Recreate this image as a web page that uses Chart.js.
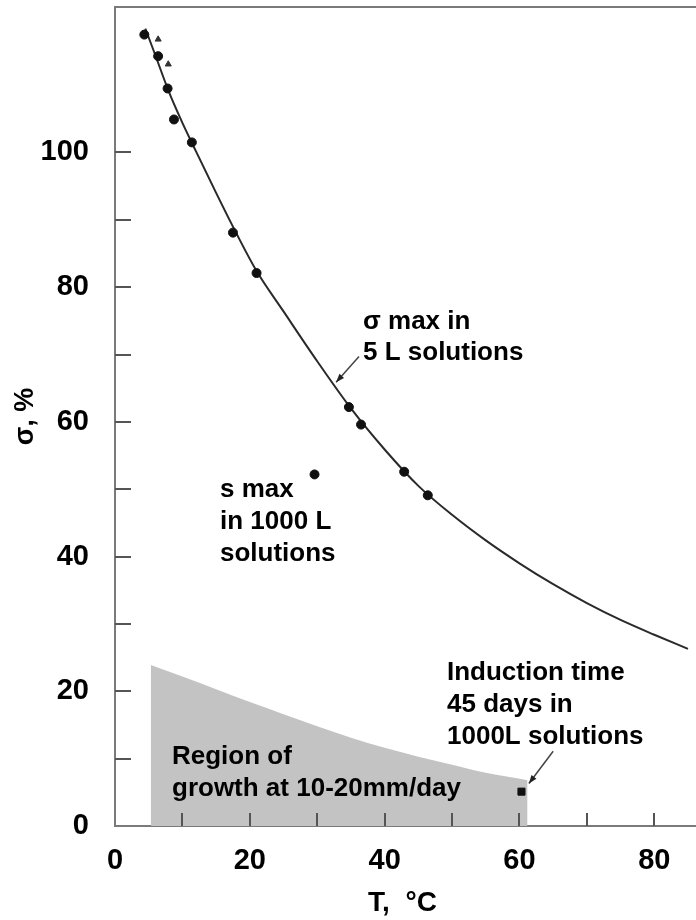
<!DOCTYPE html>
<html>
<head>
<meta charset="utf-8">
<script src="https://cdn.jsdelivr.net/npm/chart.js@4.4.0/dist/chart.umd.min.js"></script>
<style>
  html, body { margin: 0; padding: 0; background: #fff; overflow: hidden; }
  #wrap { width: 696px; height: 920px; position: relative; }
  #sigmaChart { display: block; }
</style>
</head>
<body>
<div id="wrap"><canvas id="sigmaChart"></canvas></div>
<script>
// Smooth fitted curve: sigma max in 5 L solutions
const curveT     = [4.5, 6, 8, 10, 12, 15, 18, 21, 25, 30, 35, 40, 45, 50, 55, 60, 65, 70, 75, 80, 85];
const curveSigma = [118.4, 114.4, 109.0, 104.4, 100.2, 94.0, 88.0, 82.4, 76.4, 69.0, 62.0, 55.9, 50.5, 46.2, 42.4, 39.0, 35.9, 33.1, 30.6, 28.4, 26.3];

// Measured points
const pointsT     = [4.35, 6.4, 7.8, 8.75, 11.4, 17.5, 21.0, 34.7, 36.5, 42.9, 46.4];
const pointsSigma = [117.5, 114.3, 109.5, 104.9, 101.5, 88.1, 82.1, 62.2, 59.6, 52.6, 49.1];

// Lower-bound markers (small arrows)
const boundT     = [6.4, 7.9];
const boundSigma = [116.8, 113.1];

// s max in 1000 L solutions
const bigT     = [29.6];
const bigSigma = [52.2];

// Induction time point
const inductionT     = [60.3];
const inductionSigma = [5.1];

// Grey region of growth
const regionT     = [5.3, 10, 15, 20, 25, 30, 35, 40, 45, 50, 55, 61.2];
const regionSigma = [23.9, 22.2, 20.3, 18.4, 16.6, 14.8, 13.1, 11.6, 10.3, 9.1, 7.9, 6.8];

// Axis ticks
const xTicks = [0, 10, 20, 30, 40, 50, 60, 70, 80];
const yTicks = [0, 10, 20, 30, 40, 50, 60, 70, 80, 90, 100];
const xLabelled = [0, 20, 40, 60, 80];
const yLabelled = [0, 20, 40, 60, 80, 100];

// Annotation arrows (data coords, tail -> head)
const arrowTails = [[36.2, 69.7], [65.0, 11.1]];
const arrowHeads = [[32.8, 65.9], [61.4, 6.3]];

const FONT = '"Liberation Sans", Arial, Helvetica, sans-serif';

const toXY = (xs, ys) => xs.map((x, i) => ({ x: x, y: ys[i] }));

// Inside ticks, frame lines, arrows and notes
const decorPlugin = {
    id: 'decor',
    afterDatasetsDraw(chart) {
        const { ctx, chartArea } = chart;
        const xs = chart.scales.x, ys = chart.scales.y;
        ctx.save();

        // top frame line and bottom axis run to the canvas edge
        ctx.strokeStyle = '#7a7a7a';
        ctx.lineWidth = 2;
        ctx.beginPath();
        ctx.moveTo(chartArea.left, chartArea.top);
        ctx.lineTo(chart.width, chartArea.top);
        ctx.moveTo(chartArea.right - 2, chartArea.bottom);
        ctx.lineTo(chart.width, chartArea.bottom);
        ctx.stroke();

        // inside ticks
        ctx.strokeStyle = '#555';
        ctx.lineWidth = 2;
        xTicks.forEach(v => {
            if (v === 0) return;
            const px = Math.round(xs.getPixelForValue(v));
            ctx.beginPath();
            ctx.moveTo(px, chartArea.bottom);
            ctx.lineTo(px, chartArea.bottom - 13);
            ctx.stroke();
        });
        yTicks.forEach(v => {
            if (v === 0) return;
            const py = Math.round(ys.getPixelForValue(v));
            ctx.beginPath();
            ctx.moveTo(chartArea.left, py);
            ctx.lineTo(chartArea.left + 16, py);
            ctx.stroke();
        });

        // arrows
        ctx.strokeStyle = '#444';
        ctx.fillStyle = '#222';
        ctx.lineWidth = 1.5;
        arrowTails.forEach((t, i) => {
            const x1 = xs.getPixelForValue(t[0]), y1 = ys.getPixelForValue(t[1]);
            const x2 = xs.getPixelForValue(arrowHeads[i][0]), y2 = ys.getPixelForValue(arrowHeads[i][1]);
            ctx.beginPath();
            ctx.moveTo(x1, y1);
            ctx.lineTo(x2, y2);
            ctx.stroke();
            const a = Math.atan2(y2 - y1, x2 - x1);
            ctx.beginPath();
            ctx.moveTo(x2, y2);
            ctx.lineTo(x2 - 9 * Math.cos(a - 0.35), y2 - 9 * Math.sin(a - 0.35));
            ctx.lineTo(x2 - 9 * Math.cos(a + 0.35), y2 - 9 * Math.sin(a + 0.35));
            ctx.closePath();
            ctx.fill();
        });

        // text notes
        ctx.fillStyle = '#000';
        ctx.font = 'bold 26px ' + FONT;
        ctx.textAlign = 'left';
        ctx.textBaseline = 'alphabetic';
        const notes = [
            ['σ max in', 363, 329],
            ['5 L solutions', 363, 360],
            ['s max', 220, 497],
            ['in 1000 L', 220, 529],
            ['solutions', 220, 561],
            ['Induction time', 447, 680],
            ['45 days in', 447, 712],
            ['1000L solutions', 447, 744],
            ['Region of', 172, 764],
            ['growth at 10-20mm/day', 172, 796]
        ];
        notes.forEach(n => ctx.fillText(n[0], n[1], n[2]));
        ctx.restore();
    }
};

const ctx = document.getElementById('sigmaChart').getContext('2d');
new Chart(ctx, {
    type: 'scatter',
    data: {
        datasets: [
            {
                type: 'line',
                data: toXY(regionT, regionSigma),
                showLine: true,
                borderWidth: 0,
                borderColor: 'rgba(0,0,0,0)',
                backgroundColor: '#c3c3c3',
                fill: 'origin',
                pointRadius: 0,
                cubicInterpolationMode: 'monotone',
                order: 5
            },
            {
                type: 'line',
                data: toXY(curveT, curveSigma),
                showLine: true,
                borderColor: '#2a2a2a',
                borderWidth: 2,
                fill: false,
                pointRadius: 0,
                cubicInterpolationMode: 'monotone',
                order: 4
            },
            {
                data: toXY(pointsT, pointsSigma),
                pointStyle: 'circle',
                pointRadius: 4.5,
                backgroundColor: '#111',
                borderColor: '#111',
                order: 1
            },
            {
                data: toXY(boundT, boundSigma),
                pointStyle: 'triangle',
                pointRadius: 3.5,
                backgroundColor: '#333',
                borderColor: '#333',
                order: 1
            },
            {
                data: toXY(bigT, bigSigma),
                pointStyle: 'circle',
                pointRadius: 4.5,
                backgroundColor: '#111',
                borderColor: '#111',
                order: 1
            },
            {
                data: toXY(inductionT, inductionSigma),
                pointStyle: 'rect',
                pointRadius: 5,
                backgroundColor: '#111',
                borderColor: '#111',
                order: 1
            }
        ]
    },
    options: {
        responsive: true,
        maintainAspectRatio: false,
        animation: false,
        events: [],
        layout: { padding: { top: 7, right: 0, left: 0, bottom: 0 } },
        plugins: {
            legend: { display: false },
            tooltip: { enabled: false }
        },
        scales: {
            x: {
                type: 'linear',
                min: 0,
                max: 85.3,
                grid: { display: false },
                border: { display: true, color: '#7a7a7a', width: 2 },
                ticks: {
                    stepSize: 10,
                    includeBounds: false,
                    autoSkip: false,
                    maxRotation: 0,
                    padding: 10,
                    color: '#000',
                    font: { family: FONT, size: 29, weight: 'bold' },
                    callback: v => xLabelled.includes(v) ? String(v) : ''
                },
                title: {
                    display: true,
                    text: 'T,  °C',
                    color: '#000',
                    font: { family: FONT, size: 28, weight: 'bold' },
                    padding: { top: 8, bottom: 0 }
                },
                afterFit: scale => {
                    scale.height = 94;
                    scale.paddingLeft = 0;
                    scale.paddingRight = 0;
                }
            },
            y: {
                type: 'linear',
                min: 0,
                max: 121.6,
                grid: { display: false },
                border: { display: true, color: '#7a7a7a', width: 2 },
                ticks: {
                    stepSize: 10,
                    includeBounds: false,
                    autoSkip: false,
                    padding: 18,
                    color: '#000',
                    font: { family: FONT, size: 29, weight: 'bold' },
                    callback: v => yLabelled.includes(v) ? String(v) : ''
                },
                title: {
                    display: true,
                    text: 'σ, %',
                    color: '#000',
                    font: { family: FONT, size: 27, weight: 'bold' },
                    padding: { top: 9, bottom: 0 }
                },
                afterFit: scale => {
                    scale.width = 115;
                    scale.paddingTop = 0;
                    scale.paddingBottom = 0;
                }
            }
        }
    },
    plugins: [decorPlugin]
});
</script>
</body>
</html>
